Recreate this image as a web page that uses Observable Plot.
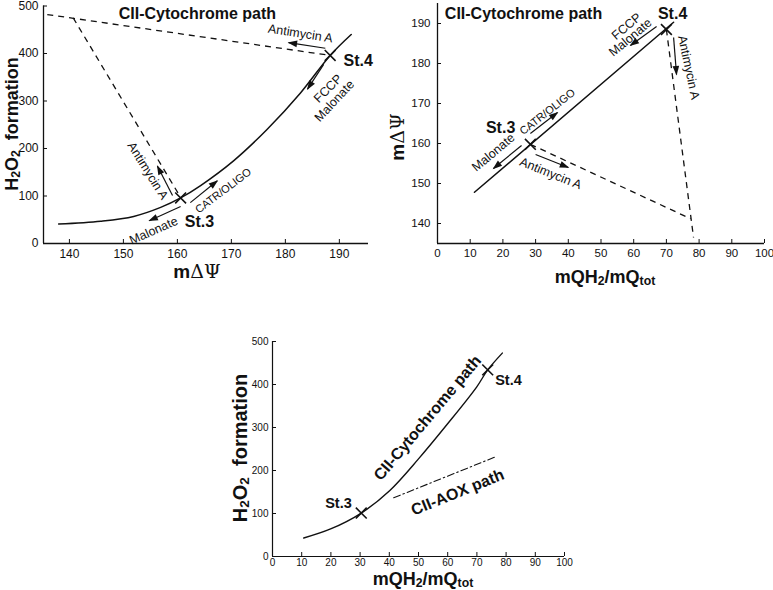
<!DOCTYPE html>
<html><head><meta charset="utf-8">
<script src="https://cdn.jsdelivr.net/npm/d3@7"></script>
<script src="https://cdn.jsdelivr.net/npm/@observablehq/plot@0.6"></script>
<style>
body{margin:0;background:#fff;}
#wrap{position:relative;width:773px;height:590px;overflow:hidden;font-family:"Liberation Sans",Arial,sans-serif;color:#111;}
.panel{position:absolute;}
.lab{position:absolute;font-weight:bold;white-space:nowrap;line-height:1;transform:translate(-50%,-50%);}
.lab.rot{transform:translate(-50%,-50%) rotate(-90deg);}
.lab sub{font-size:0.68em;vertical-align:baseline;position:relative;top:0.15em;line-height:0;}
.lab .sym{font-family:"DejaVu Serif",serif;font-weight:normal;}
</style></head><body><div id="wrap"></div>
<script>
// ---------- Panel A : H2O2 formation vs mΔΨ ----------
const aTicksX = [140,150,160,170,180,190];
const aTicksY = [0,100,200,300,400,500];
const aCurveX = [138.0,145.8,151.9,156.9,160.6,164.3,170.4,176.6,182.8,188.3,192.2];
const aCurveY = [41,47,57,76,96,122,174,240,317,396,440];
const aDashX1 = [135.9,140.7];
const aDashY1 = [482,475];
const aDashX2 = [188.3,160.6];
const aDashY2 = [396,97];
const aStateX = [160.6,188.3];
const aStateY = [96,396];
const aStateLabel = ["St.3","St.4"];
const aStateLabelX = [164.1,193.5];
const aStateLabelY = [46,384];
const aArrowX1 = [187.4,187.1,159.1,162.4,160.6];
const aArrowY1 = [411,377,101,86,78];
const aArrowX2 = [180.6,184.1,156.3,167.4,154.8];
const aArrowY2 = [423,325,163,132,48];
const aNote = ["Antimycin A","FCCP","Malonate","Antimycin A","CATR/OLIGO","Malonate"];
const aNoteX = [182.8,187.9,189.1,154.5,168.5,155.6];
const aNoteY = [442,326,300,153,111,27];
const aNoteRot = [9,-45,-47,58,-37,-24];
const aTitle = ["CII-Cytochrome path"];
const aTitleX = [163.7];
const aTitleY = [484];

// ---------- Panel B : mΔΨ vs mQH2/mQtot ----------
const bTicksX = [0,10,20,30,40,50,60,70,80,90,100];
const bTicksY = [140,150,160,170,180,190];
const bLineX = [11.3,72.2];
const bLineY = [147.8,190.3];
const bDashX1 = [28.4,70.0];
const bDashY1 = [159.8,188.5];
const bDashX2 = [77.4,78.3];
const bDashY2 = [141.2,136.5];
const bStateX = [28.4,70.0];
const bStateY = [159.8,188.5];
const bStateLabel = ["St.3","St.4"];
const bStateLabelX = [19.3,71.9];
const bStateLabelY = [164,192.5];
const bArrowX1 = [67.0,72.2,28.4,25.7,30.0];
const bArrowY1 = [189.25,186.5,162.5,159.5,157.25];
const bArrowX2 = [59.0,73.1,36.7,17.1,40.0];
const bArrowY2 = [184.5,177.25,167.75,153.75,154.0];
const bNote = ["FCCP","Malonate","Antimycin A","CATR/OLIGO","Malonate","Antimycin A"];
const bNoteX = [57.8,59.0,76.8,33.6,17.1,34.6];
const bNoteY = [189.25,186.5,179,167.9,157.75,152.5];
const bNoteRot = [-40,-40,78,-38,-40,22];
const bTitle = ["CII-Cytochrome path"];
const bTitleX = [26.3];
const bTitleY = [192.5];

// ---------- Panel C : H2O2 formation vs mQH2/mQtot ----------
const cTicksX = [0,10,20,30,40,50,60,70,80,90,100];
const cTicksY = [0,100,200,300,400,500];
const cCurveX = [10.7,19.9,30.4,40.1,50.0,59.9,69.9,73.7,78.7];
const cCurveY = [43,64,101,153,227,308,394,434,473];
const cAoxX = [41.5,76.7];
const cAoxY = [136.5,232.6];
const cStateX = [30.4,73.7];
const cStateY = [101,434];
const cStateLabel = ["St.3","St.4"];
const cStateLabelX = [22.6,80.8];
const cStateLabelY = [123,409];
const cPath = ["CII-Cytochrome path","CII-AOX path"];
const cPathX = [53.1,63.4];
const cPathY = [322,149];
const cPathRot = [-50,-22];

// ---------- helpers ----------
const zip = (xs, ys) => xs.map((x,i) => ({x, y: ys[i]}));
const seg = (x1,y1,x2,y2) => x1.map((v,i) => ({x1:v, y1:y1[i], x2:x2[i], y2:y2[i]}));
const notes = (t,x,y,r) => t.map((s,i) => ({t:s, x:x[i], y:y[i], r: r ? r[i] : 0}));
const FONT = '"Liberation Sans", Arial, sans-serif';
const INK = "#111";

function patchMarkers(svg){
  svg.querySelectorAll("marker").forEach(m => {
    m.setAttribute("markerUnits","userSpaceOnUse");
    m.setAttribute("viewBox","-10 -5 12 10");
    m.setAttribute("markerWidth","12");
    m.setAttribute("markerHeight","10");
    m.setAttribute("refX","0");
    m.setAttribute("refY","0");
    m.setAttribute("fill",INK);
    m.setAttribute("stroke","none");
    while (m.firstChild) m.removeChild(m.firstChild);
    const p = document.createElementNS("http://www.w3.org/2000/svg","path");
    p.setAttribute("d","M-8.5,-3.3L1,0L-8.5,3.3Z");
    m.appendChild(p);
  });
}

function place(node, left, top){
  const d = document.createElement("div");
  d.className = "panel";
  d.style.left = left + "px";
  d.style.top = top + "px";
  d.appendChild(node);
  document.getElementById("wrap").appendChild(d);
  patchMarkers(node);
}
function label(html, cx, cy, size, rot){
  const d = document.createElement("div");
  d.className = "lab" + (rot ? " rot" : "");
  d.style.left = cx + "px";
  d.style.top = cy + "px";
  d.style.fontSize = size + "px";
  d.innerHTML = html;
  document.getElementById("wrap").appendChild(d);
}

// ---------- Panel A ----------
const pA = Plot.plot({
  width: 380, height: 290,
  marginLeft: 43, marginRight: 12, marginTop: 5.5, marginBottom: 47,
  x: {domain: [135.2, 195.4]},
  y: {domain: [0, 500]},
  style: {fontFamily: FONT, fontSize: "12px", color: INK, background: "transparent", overflow: "visible"},
  marks: [
    Plot.ruleX([135.2], {stroke: INK, strokeWidth: 1.3}),
    Plot.ruleY([0], {stroke: INK, strokeWidth: 1.3}),
    Plot.axisX(aTicksX, {tickSize: -4, tickPadding: 10, label: null, stroke: INK}),
    Plot.axisY(aTicksY, {tickSize: -4, tickPadding: 9, label: null, stroke: INK}),
    Plot.line(zip(aCurveX, aCurveY), {x: "x", y: "y", curve: "catmull-rom", stroke: INK, strokeWidth: 1.5}),
    Plot.link(seg(aDashX1, aDashY1, aDashX2, aDashY2), {x1: "x1", y1: "y1", x2: "x2", y2: "y2", stroke: INK, strokeWidth: 1.3, strokeDasharray: "6,5"}),
    Plot.link(seg(aArrowX1, aArrowY1, aArrowX2, aArrowY2), {x1: "x1", y1: "y1", x2: "x2", y2: "y2", stroke: INK, strokeWidth: 1.2, markerEnd: "arrow"}),
    Plot.dot(zip(aStateX, aStateY), {x: "x", y: "y", symbol: "times", r: 5, stroke: INK, strokeWidth: 1.6}),
    Plot.text(notes(aStateLabel, aStateLabelX, aStateLabelY), {x: "x", y: "y", text: "t", fontSize: 16, fontWeight: "bold", fill: INK}),
    Plot.text(notes(aNote, aNoteX, aNoteY, aNoteRot).filter(d => d.t !== "CATR/OLIGO"), {x: "x", y: "y", text: "t", rotate: "r", fontSize: 12.5, fill: INK}),
    Plot.text(notes(aNote, aNoteX, aNoteY, aNoteRot).filter(d => d.t === "CATR/OLIGO"), {x: "x", y: "y", text: "t", rotate: "r", fontSize: 11, fill: INK}),
    Plot.text(notes(aTitle, aTitleX, aTitleY), {x: "x", y: "y", text: "t", fontSize: 16, fontWeight: "bold", fill: INK})
  ]
});
place(pA, 0, 0);

// ---------- Panel B ----------
const pB = Plot.plot({
  width: 393, height: 290,
  marginLeft: 57, marginRight: 9, marginTop: 3, marginBottom: 47,
  x: {domain: [0, 100]},
  y: {domain: [135, 195]},
  style: {fontFamily: FONT, fontSize: "11.5px", color: INK, background: "transparent", overflow: "visible"},
  marks: [
    Plot.ruleX([0], {stroke: INK, strokeWidth: 1.3}),
    Plot.ruleY([135], {stroke: INK, strokeWidth: 1.3}),
    Plot.axisX(bTicksX, {tickSize: -4, tickPadding: 9, label: null, stroke: INK}),
    Plot.axisY(bTicksY, {tickSize: -4, tickPadding: 11, label: null, stroke: INK}),
    Plot.line(zip(bLineX, bLineY), {x: "x", y: "y", stroke: INK, strokeWidth: 1.5}),
    Plot.link(seg(bDashX1, bDashY1, bDashX2, bDashY2), {x1: "x1", y1: "y1", x2: "x2", y2: "y2", stroke: INK, strokeWidth: 1.3, strokeDasharray: "6,5"}),
    Plot.link(seg(bArrowX1, bArrowY1, bArrowX2, bArrowY2), {x1: "x1", y1: "y1", x2: "x2", y2: "y2", stroke: INK, strokeWidth: 1.2, markerEnd: "arrow"}),
    Plot.dot(zip(bStateX, bStateY), {x: "x", y: "y", symbol: "times", r: 5, stroke: INK, strokeWidth: 1.6}),
    Plot.text(notes(bStateLabel, bStateLabelX, bStateLabelY), {x: "x", y: "y", text: "t", fontSize: 16, fontWeight: "bold", fill: INK}),
    Plot.text(notes(bNote, bNoteX, bNoteY, bNoteRot).filter(d => d.t !== "CATR/OLIGO"), {x: "x", y: "y", text: "t", rotate: "r", fontSize: 12.5, fill: INK}),
    Plot.text(notes(bNote, bNoteX, bNoteY, bNoteRot).filter(d => d.t === "CATR/OLIGO"), {x: "x", y: "y", text: "t", rotate: "r", fontSize: 11, fill: INK}),
    Plot.text(notes(bTitle, bTitleX, bTitleY), {x: "x", y: "y", text: "t", fontSize: 16, fontWeight: "bold", fill: INK})
  ]
});
place(pB, 380, 0);

// ---------- Panel C ----------
const pC = Plot.plot({
  width: 380, height: 270,
  marginLeft: 72, marginRight: 16, marginTop: 21, marginBottom: 34,
  x: {domain: [0, 100]},
  y: {domain: [0, 500]},
  style: {fontFamily: FONT, fontSize: "10px", color: INK, background: "transparent", overflow: "visible"},
  marks: [
    Plot.ruleX([0], {stroke: INK, strokeWidth: 1.2}),
    Plot.ruleY([0], {stroke: INK, strokeWidth: 1.2}),
    Plot.axisX(cTicksX, {tickSize: -4, tickPadding: 6, label: null, stroke: INK}),
    Plot.axisY(cTicksY, {tickSize: -4, tickPadding: 8, label: null, stroke: INK}),
    Plot.line(zip(cCurveX, cCurveY), {x: "x", y: "y", curve: "catmull-rom", stroke: INK, strokeWidth: 1.4}),
    Plot.line(zip(cAoxX, cAoxY), {x: "x", y: "y", stroke: INK, strokeWidth: 1.1, strokeDasharray: "7,3,1.5,3"}),
    Plot.dot(zip(cStateX, cStateY), {x: "x", y: "y", symbol: "times", r: 5, stroke: INK, strokeWidth: 1.6}),
    Plot.text(notes(cStateLabel, cStateLabelX, cStateLabelY), {x: "x", y: "y", text: "t", fontSize: 14.5, fontWeight: "bold", fill: INK}),
    Plot.text(notes(cPath, cPathX, cPathY, cPathRot), {x: "x", y: "y", text: "t", rotate: "r", fontSize: 16, fontWeight: "bold", fill: INK})
  ]
});
place(pC, 200, 320);

// ---------- axis titles (with subscripts) ----------
label("H<sub>2</sub>O<sub>2</sub>&nbsp; formation", 12, 124, 18, true);
label("m<span class='sym'>&Delta;&Psi;</span>", 197, 271, 19, false);
label("m<span class='sym'>&Delta;&Psi;</span>", 397, 137, 19, true);
label("mQH<sub>2</sub>/mQ<sub>tot</sub>", 605, 277, 18, false);
label("H<sub>2</sub>O<sub>2</sub>&nbsp; formation", 240, 448, 20, true);
label("mQH<sub>2</sub>/mQ<sub>tot</sub>", 423, 579, 18, false);
</script></body></html>
